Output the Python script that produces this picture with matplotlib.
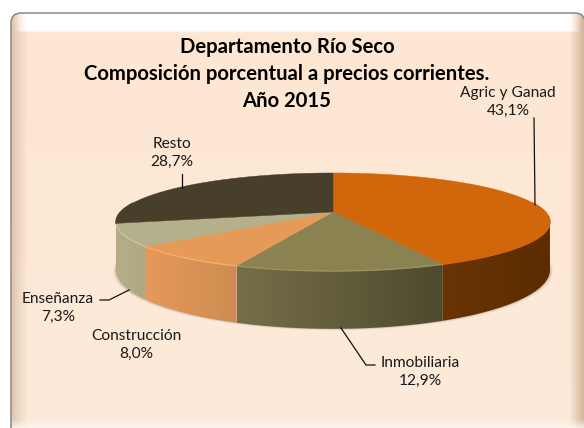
import numpy as np
import matplotlib
matplotlib.use("Agg")
import matplotlib.pyplot as plt
from matplotlib.colors import to_rgb
from matplotlib.patches import FancyBboxPatch, Polygon

categories = ["Agric y Ganad", "Inmobiliaria", "Construcción", "Enseñanza", "Resto"]
values = [43.1, 12.9, 8.0, 7.3, 28.7]
labels = ["43,1%", "12,9%", "8,0%", "7,3%", "28,7%"]
title = "Departamento Río Seco\nComposición porcentual a precios corrientes.\nAño 2015"

top_colors = ["#D2660A", "#8A8250", "#E69A58", "#B5B08C", "#473F2A"]
wall_left = ["#6A3405", "#766E48", "#E5995A", "#B5AE88", "#473F2A"]
wall_right = ["#5A2C00", "#4D4A2E", "#CF8C50", "#AEA880", "#473F2A"]
rim_colors = ["#D2660A", "#9A9260", "#F5AE6C", "#C8C4A0", "#473F2A"]

W, H = 584, 428
plt.rcParams["font.family"] = ["Lato", "DejaVu Sans"]
fig = plt.figure(figsize=(W / 100, H / 100), dpi=100)
ax = fig.add_axes([0, 0, 1, 1])

# Bevelled panel background
L, T, R, B = 11, 13, 584, 428
px = np.arange(L, R) + 0.5
py = np.arange(T, B) + 0.5
xx, yy = np.meshgrid(px, py)
c_top, c_bot = np.array([253, 231, 210]), np.array([254, 234, 218])
img = c_top + (c_bot - c_top) * ((yy - T) / (B - T))[..., None]
def blend(img, mask, col):
    return img * (1 - mask[..., None]) + np.array(col) * mask[..., None]
img = blend(img, np.clip(1 - (xx - L - 2) / 16, 0, 1) ** 1.2 * 0.6, (205, 180, 155))
img = blend(img, np.clip(1 - (R - xx) / 15, 0, 1) ** 1.0 * 0.75, (195, 165, 135))
img = blend(img, np.clip(1 - (B - yy) / 9, 0, 1) * 0.85, (250, 248, 244))
top_mask = np.where(yy < T + 17, 1.0, np.clip(1 - (yy - T - 17) / 3, 0, 1))
top_mask = top_mask * np.clip((xx - L - 3) / 12, 0, 1) * np.clip((R - xx - 3) / 12, 0, 1)
img = blend(img, top_mask, (255, 255, 255))
im = ax.imshow(img.astype(np.uint8), extent=(L, R, B, T), aspect="auto", zorder=1, interpolation="bilinear")
panel = FancyBboxPatch((L + 8, T + 8), R - L - 15, B - T - 6, boxstyle="round,pad=8,rounding_size=10",
                       facecolor="none", edgecolor="#8A8880", lw=1.1, zorder=2)
ax.add_patch(panel)
im.set_clip_path(panel)
ax.set_xlim(0, W)
ax.set_ylim(H, 0)
ax.axis("off")

# Perspective projection of the pie disc
CX, CY = 333.0, 212.0
A, BX, K, DEPTH = 47.0, 212.4, -0.204, 46.0
def project(theta):
    s, t = np.sin(theta), -np.cos(theta)
    d = 1 + K * t
    return CX + BX * s / d, CY + A * t / d, DEPTH / d

angles = 2 * np.pi * np.cumsum([0] + values) / sum(values)

# soft shadow
fx, fy, fd = project(np.linspace(0, 2 * np.pi, 361))
for grow, alpha in [(3.0, 0.06), (1.8, 0.10), (0.8, 0.14)]:
    ax.add_patch(Polygon(np.c_[CX + (fx - CX) * (1 + grow / 217), fy + fd + grow * 0.5], closed=True,
                         fc="#555555", ec="none", alpha=alpha, zorder=3))

# side walls: the part of each slice's rim facing the viewer, with a horizontal gradient
for i in range(len(values)):
    th = np.linspace(angles[i], angles[i + 1], 300)
    x, y, d = project(th)
    keep = np.r_[np.diff(x) < 0, False] | np.r_[False, np.diff(x) < 0]
    if keep.sum() < 2:
        continue
    x, y, d = x[keep], y[keep], d[keep]
    poly = Polygon(np.r_[np.c_[x, y], np.c_[x, y + d][::-1]], closed=True, fc="none", ec="none", zorder=4)
    ax.add_patch(poly)
    c0, c1 = np.array(to_rgb(wall_left[i])), np.array(to_rgb(wall_right[i]))
    grad = np.linspace(0, 1, 64)[None, :, None]
    wall = ax.imshow(c0 + (c1 - c0) * grad, extent=(x.min(), x.max(), (y + d).max() + 1, y.min() - 1),
                     aspect="auto", zorder=4, interpolation="bilinear")
    wall.set_clip_path(poly)
ax.set_xlim(0, W)
ax.set_ylim(H, 0)

# top faces
for i in range(len(values)):
    th = np.linspace(angles[i], angles[i + 1], 200)
    x, y, d = project(th)
    ax.add_patch(Polygon(np.r_[[[CX, CY]], np.c_[x, y]], closed=True, fc=top_colors[i], ec=top_colors[i], lw=0.3, zorder=6))
    front = np.cos(th) < 0.2
    ax.plot(np.where(front, x, np.nan), np.where(front, y, np.nan), color=rim_colors[i], lw=1.0, zorder=7)

# labels and leaders
txt = dict(ha="center", va="center", fontsize=11.2, color="#1a1a1a", linespacing=1.41, zorder=10)
positions = [(508, 102), (420, 372), (136, 345), (58, 308), (172, 153)]
for cat, lab, (tx, ty) in zip(categories, labels, positions):
    ax.text(tx, ty, f"{cat}\n{lab}", **txt)
leaders = [([534, 535], [118, 205]), ([341, 366, 375], [328, 365, 365]), ([], []),
           ([100, 109, 129], [300, 300, 290]), ([182, 182], [174, 188])]
for lx, ly in leaders:
    ax.plot(lx, ly, color="#111111", lw=0.9, zorder=9)

ax.text(287, 74, title, ha="center", va="center", fontsize=14.6, fontweight="bold", color="black",
        linespacing=1.46, zorder=10)
fig.savefig("out.png", dpi=100, facecolor="white")
